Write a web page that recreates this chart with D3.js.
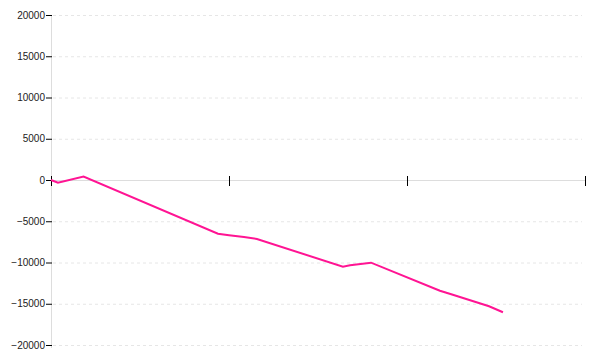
<!DOCTYPE html>
<html>
<head>
<meta charset="utf-8">
<script src="https://cdn.jsdelivr.net/npm/d3@7"></script>
<style>
  body { margin: 0; background: #fff; }
  .tick text { font-family: "Liberation Sans", Arial, sans-serif; font-size: 10px; fill: #222; }
</style>
</head>
<body>
<div class="chart"></div>
<script>
var width = 600;
var height = 360;

// values
var xValues = [0, 0.039, 0.183, 0.938, 1.0, 1.084, 1.157, 1.64, 1.68, 1.798, 2.185, 2.253, 2.461, 2.539];
var yValues = [0, -330, 420, -6520, -6700, -6910, -7150, -10510, -10340, -10020, -13420, -13880, -15300, -16030];
var yTicks = [-20000, -15000, -10000, -5000, 0, 5000, 10000, 15000, 20000];
var xTicks = [0, 1, 2, 3];

var margin = { top: 15, right: 15, bottom: 15, left: 51 };

var svg = d3.select(".chart")
  .append("svg")
  .attr("width", width)
  .attr("height", height);

var x = d3.scaleLinear()
  .domain([0, 3])
  .range([margin.left, width - margin.right]);

var y = d3.scaleLinear()
  .domain([-20000, 20000])
  .range([345, margin.top]);

// dashed grid
svg.append("g")
  .selectAll("line")
  .data(yTicks.filter(function(d) { return d !== 0; }))
  .enter()
  .append("line")
  .attr("x1", x(0) + 2)
  .attr("x2", x(3) - 3)
  .attr("y1", function(d) { return y(d) + 0.5; })
  .attr("y2", function(d) { return y(d) + 0.5; })
  .attr("stroke", "#e6e6e6")
  .attr("stroke-dasharray", "3,3");

// y axis line
svg.append("line")
  .attr("x1", x(0) + 0.5).attr("x2", x(0) + 0.5)
  .attr("y1", margin.top).attr("y2", 348)
  .attr("stroke", "#ddd");

// x axis on zero
var xAxis = svg.append("g")
  .attr("transform", "translate(0," + y(0) + ")")
  .call(d3.axisBottom(x).tickValues(xTicks).tickFormat("").tickSize(6).tickSizeOuter(0));
xAxis.select(".domain").attr("stroke", "#ddd");
xAxis.selectAll(".tick line").attr("y1", -4).attr("stroke", "#000");

var yAxis = svg.append("g")
  .attr("transform", "translate(" + (x(0) + 1) + ",0)")
  .call(d3.axisLeft(y).tickValues(yTicks).tickSize(6).tickPadding(1).tickFormat(d3.format("d")));
yAxis.select(".domain").remove();
yAxis.selectAll(".tick line").attr("stroke", "#000");

var line = d3.line()
  .x(function(d) { return x(d[0]); })
  .y(function(d) { return y(d[1]); });

svg.append("path")
  .datum(d3.zip(xValues, yValues))
  .attr("fill", "none")
  .attr("stroke", "#ff1493")
  .attr("stroke-width", 2)
  .attr("d", line);
</script>
</body>
</html>
